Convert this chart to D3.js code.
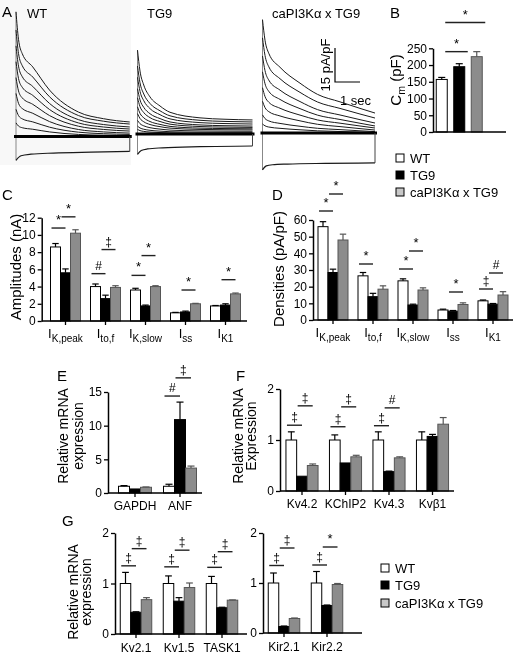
<!DOCTYPE html>
<html><head><meta charset="utf-8">
<script src="https://cdn.jsdelivr.net/npm/d3@7"></script>
<style>body{margin:0;background:#fff} svg text{font-family:"Liberation Sans",Arial,sans-serif;fill:#000}</style>
</head><body><svg id="c" width="513" height="656"><defs><filter id="gray" x="0" y="0" width="1" height="1" filterUnits="userSpaceOnUse"><feColorMatrix type="saturate" values="0"/></filter></defs></svg>
<script>
// ---------- DATA ----------
const groups = ["WT", "TG9", "caPI3Kα x TG9"];

// Panel A traces (pA/pF), time in s
const wtPeaks = [55, 47, 40, 33, 26, 19, 12, 6];
const wtEnds = [6.4, 5.5, 4.2, 3.3, 2.4, 1.5, 0.9, 0.4];
const wtShapeT = [0, 0.1, 0.25, 0.67, 1.34, 2.5, 3.5, 4.55];
const wtShape = [1, 0.75, 0.62, 0.5, 0.29, 0.09, 0.03, 0];
const wtNegT = [0, 0.2, 0.6, 1.5, 3, 4.55];
const wtNegV = [-10.5, -8.5, -7.8, -7.3, -6.9, -6.6];

const tgPeaks = [37, 30, 25, 20, 16, 12, 9, 6, 3.5, 2];
const tgEnds = [6.2, 5.3, 4.4, 3.5, 2.9, 2.3, 1.8, 1.2, 0.7, 0.3];
const tgShapeT = [0, 0.1, 0.25, 0.5, 0.9, 1.3, 2.5, 3.5, 4.6];
const tgShape = [1, 0.7, 0.5, 0.33, 0.2, 0.11, 0.03, 0.01, 0];
const tgNegT = [0, 0.15, 0.4, 1, 2.5, 4.6];
const tgNegV = [-9, -7.3, -6.6, -6.1, -5.6, -5.3];

const piPeaks = [50, 42, 34, 27, 20, 14, 8, 4];
const piEnds = [8.8, 6.6, 4.4, 3.1, 2.2, 1.3, 0.6, 0.2];
const piShapeT = [0, 0.1, 0.25, 0.7, 1.5, 2.2, 3.1, 3.9, 4.5];
const piShape = [1, 0.78, 0.64, 0.49, 0.32, 0.2, 0.12, 0.05, 0];
const piNegT = [0, 0.15, 0.4, 1, 2.5, 4.5];
const piNegV = [-16.3, -14.5, -14, -13.7, -13.4, -13.2];

// Panel B: Cm (pF)
const bCats = ["Cm"];
const bWT = [157], bTG9 = [195], bPI = [225];
const bWTe = [6], bTG9e = [9], bPIe = [15];
const bTicks = [0, 50, 100, 150, 200, 250];
const bSig = [[0, 0, 1, 240, "*"], [0, 0, 2, 327, "*"]];

// Panel C: amplitudes (nA)
const cCats = ["K,peak", "to,f", "K,slow", "ss", "K1"];
const cWT = [8.6, 4.0, 3.6, 0.95, 1.75], cWTe = [0.4, 0.3, 0.2, 0.05, 0.05];
const cTG9 = [5.6, 2.6, 1.75, 1.05, 1.85], cTG9e = [0.45, 0.4, 0.1, 0.1, 0.15];
const cPI = [10.2, 3.9, 4.0, 2.0, 3.15], cPIe = [0.4, 0.2, 0.1, 0.05, 0.1];
const cTicks = [0, 2, 4, 6, 8, 10, 12];
const cSig = [[0,0,1,10.8,"*"],[0,1,2,12.1,"*"],[1,0,1,5.5,"#"],[1,1,2,8.3,"‡"],[2,0,1,5.3,"*"],[2,1,2,7.6,"*"],[3,1,2,3.6,"*"],[4,1,2,4.8,"*"]];

// Panel D: densities (pA/pF)
const dWT = [56, 26.5, 23.5, 6, 11.5], dWTe = [3, 2, 1.2, 0.5, 0.5];
const dTG9 = [28.5, 14, 9, 5.3, 9.5], dTG9e = [2, 2, 0.5, 0.4, 0.4];
const dPI = [48, 18.5, 18, 9.3, 15], dPIe = [3.5, 2, 1.3, 1, 2];
const dTicks = [0, 10, 20, 30, 40, 50, 60];
const dSig = [[0,0,1,65.4,"*"],[0,1,2,75.6,"*"],[1,0,1,33.6,"*"],[2,0,1,30.6,"*"],[2,1,2,41.4,"*"],[3,1,2,16.8,"*"],[4,0,1,18.6,"‡"],[4,1,2,28.2,"#"]];

// Panel E
const eCats = ["GAPDH", "ANF"];
const eWT = [1.0, 1.0], eWTe = [0.1, 0.3];
const eTG9 = [0.6, 10.9], eTG9e = [0, 2.6];
const ePI = [0.85, 3.7], ePIe = [0.05, 0.3];
const eTicks = [0, 5, 10, 15];
const eSig = [[1,0,1,14.4,"#"],[1,1,2,17.1,"‡"]];

// Panel F
const fCats = ["Kv4.2", "KChIP2", "Kv4.3", "Kvβ1"];
const fWT = [1, 1, 1, 1], fWTe = [0.16, 0.1, 0.16, 0.16];
const fTG9 = [0.29, 0.55, 0.38, 1.07], fTG9e = [0, 0, 0.01, 0.04];
const fPI = [0.5, 0.67, 0.65, 1.31], fPIe = [0.03, 0.03, 0.02, 0.13];
const fTicks = [0, 1, 2];
const fSig = [[0,0,1,1.29,"‡"],[0,1,2,1.67,"‡"],[1,0,1,1.26,"‡"],[1,1,2,1.65,"‡"],[2,0,1,1.28,"‡"],[2,1,2,1.63,"#"]];

// Panel G (left)
const g1Cats = ["Kv2.1", "Kv1.5", "TASK1"];
const g1WT = [1, 1, 1], g1WTe = [0.22, 0.15, 0.14];
const g1TG9 = [0.43, 0.65, 0.52], g1TG9e = [0.01, 0.07, 0.01];
const g1PI = [0.68, 0.92, 0.67], g1PIe = [0.04, 0.09, 0.005];
const g1Sig = [[0,0,1,1.35,"‡"],[0,1,2,1.69,"‡"],[1,0,1,1.33,"‡"],[1,1,2,1.66,"‡"],[2,0,1,1.32,"‡"],[2,1,2,1.63,"‡"]];
// Panel G (right)
const g2Cats = ["Kir2.1", "Kir2.2"];
const g2WT = [1, 1], g2WTe = [0.2, 0.23];
const g2TG9 = [0.13, 0.55], g2TG9e = [0.01, 0.01];
const g2PI = [0.29, 0.97], g2PIe = [0.01, 0.02];
const g2Sig = [[0,0,1,1.35,"‡"],[0,1,2,1.7,"‡"],[1,0,1,1.36,"‡"],[1,1,2,1.72,"*"]];
const gTicks = [0, 1, 2];

// ---------- STYLE ----------
const FILL = ["#ffffff", "#000000", "#8c8c8c"];
const STROKE = ["#000000", "#000000", "#555555"];
const LEGFILL = ["#ffffff", "#000000", "#c8c8c8"];
const root = d3.select("#c");
root.select("#gray").attr("width", 513).attr("height", 656);
const svg = root.append("g").attr("filter", "url(#gray)");
svg.append("rect").attr("width", 513).attr("height", 656).attr("fill", "#fff");

function label(x, y, t, size, anchor) {
  return svg.append("text").attr("x", x).attr("y", y).attr("font-size", size)
    .attr("text-anchor", anchor || "start").text(t);
}

// ---------- PANEL A ----------
svg.append("rect").attr("x", 0).attr("y", 0).attr("width", 131).attr("height", 165).attr("fill", "#f8f8f8");
const vScale = d3.scaleLinear().domain([0, 15]).range([0, -34]); // pA/pF -> px
const tScale = d3.scaleLinear().domain([0, 1]).range([0, 25]);   // s -> px

function tracePanel(x0, base, dur, peaks, ends, sT, sh, nT, nV) {
  const g = svg.append("g").attr("transform", `translate(${x0},${base})`);
  const line = d3.line().x(d => tScale(d[0])).y(d => vScale(d[1])).curve(d3.curveMonotoneX);
  g.append("line").attr("x1", tScale(0)).attr("x2", tScale(0))
    .attr("y1", vScale(nV[0])).attr("y2", vScale(d3.max(peaks)))
    .attr("stroke", "#888").attr("stroke-width", 1);
  peaks.forEach((p, i) => {
    const pts = sT.map((t, j) => [t, ends[i] + (p - ends[i]) * sh[j]]);
    g.append("path").attr("d", line(pts)).attr("fill", "none").attr("stroke", "#1a1a1a").attr("stroke-width", 1);
  });
  g.append("line").attr("x1", tScale(-0.08)).attr("x2", tScale(dur + 0.08))
    .attr("y1", vScale(0)).attr("y2", vScale(0)).attr("stroke", "#000").attr("stroke-width", 3);
  const negPts = nT.map((t, j) => [t, nV[j]]);
  g.append("path").attr("d", line(negPts)).attr("fill", "none").attr("stroke", "#1a1a1a").attr("stroke-width", 1.2);
  g.append("line").attr("x1", tScale(dur)).attr("x2", tScale(dur))
    .attr("y1", vScale(nV[nV.length - 1])).attr("y2", vScale(0)).attr("stroke", "#444").attr("stroke-width", 1);
}
tracePanel(16, 136.5, 4.55, wtPeaks, wtEnds, wtShapeT, wtShape, wtNegT, wtNegV);
tracePanel(137.5, 134, 4.6, tgPeaks, tgEnds, tgShapeT, tgShape, tgNegT, tgNegV);
tracePanel(262.5, 133, 4.5, piPeaks, piEnds, piShapeT, piShape, piNegT, piNegV);

label(2, 17, "A", 15);
label(27, 18, "WT", 13);
label(147, 18, "TG9", 13);
label(272, 18, "caPI3Kα x TG9", 13);
const sb = svg.append("g").attr("transform", "translate(335,82)");
sb.append("path").attr("d", `M0,${vScale(15)}V0H${tScale(1)}`).attr("fill", "none").attr("stroke", "#000").attr("stroke-width", 1.2);
sb.append("text").attr("transform", `translate(-5,${vScale(7.5)}) rotate(-90)`).attr("text-anchor", "middle").attr("font-size", 13).text("15 pA/pF");
label(340, 105, "1 sec", 13);

// ---------- BAR PANELS ----------
function barPanel(o) {
  const bw = o.bw, sp = o.sp || o.bw;
  const x = d3.scaleBand().domain(o.cats).range([o.r0, o.r0 + o.step * o.cats.length]);
  const c0 = o.step / 2;
  const inner = d3.scaleBand().domain([0, 1, 2]).range([c0 - 1.5 * sp, c0 + 1.5 * sp])
    .paddingInner(1 - bw / sp).paddingOuter((1 - bw / sp) / 2);
  const y = d3.scaleLinear().domain(o.yDomain).range(o.yRange);
  const g = svg.append("g");
  o.series.forEach((vals, s) => {
    const e = o.errs[s];
    g.selectAll(null).data(vals).join("rect")
      .attr("x", (d, i) => x(o.cats[i]) + inner(s)).attr("y", d => y(d))
      .attr("width", inner.bandwidth()).attr("height", d => y(0) - y(d))
      .attr("fill", FILL[s]).attr("stroke", STROKE[s]).attr("stroke-width", 1);
    vals.forEach((d, i) => {
      if (!e[i]) return;
      const cx = x(o.cats[i]) + inner(s) + inner.bandwidth() / 2;
      const cw = inner.bandwidth() * 0.32;
      g.append("line").attr("x1", cx).attr("x2", cx).attr("y1", y(d)).attr("y2", y(d + e[i])).attr("stroke", STROKE[s]).attr("stroke-width", 1.2);
      g.append("line").attr("x1", cx - cw).attr("x2", cx + cw).attr("y1", y(d + e[i])).attr("y2", y(d + e[i])).attr("stroke", STROKE[s]).attr("stroke-width", 1.2);
    });
  });
  const ya = g.append("g").attr("transform", `translate(${o.axisX},0)`)
    .call(d3.axisLeft(y).tickValues(o.ticks).tickFormat(d3.format("d")).tickSize(4).tickSizeOuter(0).tickPadding(2));
  ya.selectAll("text").attr("font-size", o.tickFont || 12).attr("font-family", '"Liberation Sans",Arial,sans-serif').attr("fill", "#000");
  ya.select(".domain").attr("stroke-width", 1.5);
  ya.selectAll(".tick line").attr("stroke-width", 1.3);
  const xa = g.append("g").attr("transform", `translate(0,${y(0)})`)
    .call(d3.axisBottom(x).tickSize(o.noXTicks ? 0 : 4).tickSizeOuter(0).tickFormat(""));
  xa.select(".domain").remove();
  xa.selectAll(".tick line").attr("stroke-width", 1.3);
  g.append("line").attr("x1", o.axisX).attr("x2", o.axisEnd).attr("y1", y(0)).attr("y2", y(0)).attr("stroke", "#000").attr("stroke-width", 1.5);
  if (!o.noXLabels) {
    o.cats.forEach(c => {
      const t = g.append("text").attr("x", x(c) + o.step / 2).attr("y", y(0) + (o.labelDy || 17))
        .attr("text-anchor", "middle").attr("font-size", 12);
      if (o.sub) {
        t.append("tspan").attr("font-size", 13).text("I");
        t.append("tspan").attr("font-size", 10).attr("dy", 4).text(c);
      } else t.text(c);
    });
  }
  const sl = o.sigL == null ? 1 : o.sigL, sr = o.sigR == null ? bw / 2 : o.sigR;
  o.sigs.forEach(([ci, a, b, v, sym]) => {
    const x1 = x(o.cats[ci]) + inner(a) + sl, x2 = x(o.cats[ci]) + inner(b) + sr;
    g.append("line").attr("x1", x1).attr("x2", x2).attr("y1", y(v)).attr("y2", y(v)).attr("stroke", "#222").attr("stroke-width", 1.4);
    g.append("text").attr("x", (x1 + x2) / 2).attr("y", y(v) - 4).attr("text-anchor", "middle")
      .attr("font-size", sym === "*" ? 13 : 12).text(sym);
  });
  return { x, y };
}

function yTitle(x, cy, lines, size) {
  lines.forEach((ln, i) => {
    const t = svg.append("text").attr("transform", `translate(${x[i]},${cy}) rotate(-90)`)
      .attr("text-anchor", "middle").attr("font-size", size);
    if (Array.isArray(ln)) {
      t.append("tspan").text(ln[0]);
      t.append("tspan").attr("font-size", size * 0.7).attr("dy", 4).text(ln[1]);
      t.append("tspan").attr("dy", -4).text(ln[2]);
    } else t.text(ln);
  });
}

function legend(x, ys, size) {
  groups.forEach((gname, i) => {
    svg.append("rect").attr("x", x).attr("y", ys[i] - 4).attr("width", 8).attr("height", 8)
      .attr("fill", LEGFILL[i]).attr("stroke", "#000").attr("stroke-width", 1);
    label(x + 14, ys[i] + 4.5, gname, size);
  });
}

// B
barPanel({cats: bCats, series: [bWT, bTG9, bPI], errs: [bWTe, bTG9e, bPIe], sigs: bSig,
  r0: 433, step: 52.5, bw: 11, sp: 17.5, axisX: 433, axisEnd: 506,
  yDomain: [0, 250], yRange: [132, 48.3], ticks: bTicks, noXTicks: true, noXLabels: true, sigL: 9, sigR: 14});
label(390, 18, "B", 15);
yTitle([401], 80, [["C", "m", " (pF)"]], 15);
legend(396, [158, 175, 192], 13);

// C
barPanel({cats: cCats, series: [cWT, cTG9, cPI], errs: [cWTe, cTG9e, cPIe], sigs: cSig,
  r0: 45.5, step: 40, bw: 10, axisX: 41.7, axisEnd: 247,
  yDomain: [0, 12], yRange: [321, 217.7], ticks: cTicks, sub: true});
label(2, 200, "C", 15);
yTitle([21], 267, ["Amplitudes (nA)"], 15);

// D
barPanel({cats: cCats, series: [dWT, dTG9, dPI], errs: [dWTe, dTG9e, dPIe], sigs: dSig,
  r0: 313, step: 40, bw: 10, axisX: 313, axisEnd: 513,
  yDomain: [0, 60], yRange: [320, 220], ticks: dTicks, sub: true});
label(272, 200, "D", 15);
yTitle([284], 269, ["Densities (pA/pF)"], 15);

// E
barPanel({cats: eCats, series: [eWT, eTG9, ePI], errs: [eWTe, eTG9e, ePIe], sigs: eSig,
  r0: 112.5, step: 45, bw: 11, axisX: 108, axisEnd: 202,
  yDomain: [0, 15], yRange: [493, 392], ticks: eTicks});
label(57, 381, "E", 15);
yTitle([68, 83], 436, ["Relative mRNA", "expression"], 14);

// F
barPanel({cats: fCats, series: [fWT, fTG9, fPI], errs: [fWTe, fTG9e, fPIe], sigs: fSig,
  r0: 280.25, step: 43.5, bw: 10.7, axisX: 280, axisEnd: 454,
  yDomain: [0, 2], yRange: [491, 389], ticks: fTicks});
label(236, 381, "F", 15);
yTitle([243, 256], 436, ["Relative mRNA", "Expression"], 14);

// G
barPanel({cats: g1Cats, series: [g1WT, g1TG9, g1PI], errs: [g1WTe, g1TG9e, g1PIe], sigs: g1Sig,
  r0: 114.5, step: 43, bw: 10.5, axisX: 115, axisEnd: 247,
  yDomain: [0, 2], yRange: [634, 533], ticks: gTicks, labelDy: 18});
barPanel({cats: g2Cats, series: [g2WT, g2TG9, g2PI], errs: [g2WTe, g2TG9e, g2PIe], sigs: g2Sig,
  r0: 262.5, step: 43, bw: 10.5, axisX: 263, axisEnd: 362,
  yDomain: [0, 2], yRange: [633, 533], ticks: gTicks, labelDy: 18});
label(62, 526, "G", 15);
yTitle([78, 91], 592, ["Relative mRNA", "expression"], 14);
legend(381, [568, 585, 603], 13);
</script></body></html>
